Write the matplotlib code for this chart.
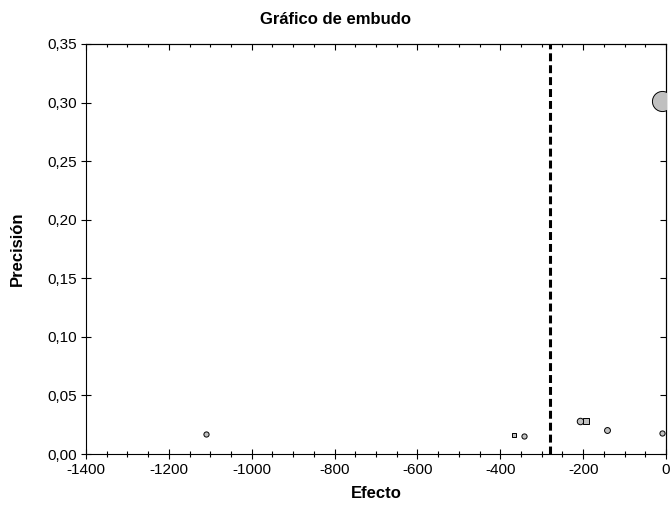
import numpy as np
import matplotlib.pyplot as plt
from matplotlib.ticker import FuncFormatter, MultipleLocator

plt.rcParams['font.family'] = ['Liberation Sans', 'DejaVu Sans']

# estudios: efecto y precisión
efecto = [-1110, -367, -342, -208, -194, -142, -9, -10]
precision = [0.017, 0.016, 0.0156, 0.0284, 0.0284, 0.0205, 0.0177, 0.301]
forma = ['o', 's', 'o', 'o', 's', 'o', 'o', 'o']
tam = [14, 12, 14, 22, 22, 18, 14, 210]
efecto_medio = -280

fig = plt.figure(figsize=(6.71, 5.12), dpi=100)
ax = fig.add_axes([86 / 671, 1 - 454 / 512, 580 / 671, 410 / 512])

for x, y, m, s in zip(efecto, precision, forma, tam):
    ax.scatter(x, y, marker=m, s=s, facecolor='#c0c0c0', edgecolor='black',
               linewidth=0.7, zorder=3)

ax.axvline(efecto_medio, color='black', lw=2.2, dashes=(2.6, 1.3), zorder=2)

ax.set_xlim(-1400, 0)
ax.set_ylim(0, 0.35)
ax.xaxis.set_major_locator(MultipleLocator(200))
ax.xaxis.set_minor_locator(MultipleLocator(50))
ax.yaxis.set_major_locator(MultipleLocator(0.05))
ax.yaxis.set_major_formatter(FuncFormatter(lambda v, p: f'{v:.2f}'.replace('.', ',')))
ax.xaxis.set_major_formatter(FuncFormatter(lambda v, p: f'{v:.0f}'))

ax.tick_params(which='major', direction='inout', length=7.5, width=0.8,
               labelsize=11, pad=3)
ax.tick_params(which='minor', direction='inout', length=4.5, width=0.8)

# marcas interiores arriba y a la derecha
sx = ax.secondary_xaxis('top')
sx.xaxis.set_major_locator(MultipleLocator(200))
sx.xaxis.set_minor_locator(MultipleLocator(50))
sx.tick_params(which='major', direction='in', length=4.5, width=0.8, labeltop=False)
sx.tick_params(which='minor', direction='in', length=2.3, width=0.8)
sy = ax.secondary_yaxis('right')
sy.yaxis.set_major_locator(MultipleLocator(0.05))
sy.tick_params(which='major', direction='in', length=4.5, width=0.8, labelright=False)

for sp in ax.spines.values():
    sp.set_linewidth(0.8)

fig.text(0.5, 1 - 19 / 512, 'Gráfico de embudo', fontsize=12, fontweight='bold',
         ha='center', va='center')
ax.set_xlabel('Efecto', fontsize=12, fontweight='bold', labelpad=6)
fig.text(17 / 671, 0.5 * (1 - 454 / 512 + 1 - 44 / 512), 'Precisión', fontsize=12,
         fontweight='bold', rotation=90, ha='center', va='center')

fig.savefig('out.png', dpi=100)
